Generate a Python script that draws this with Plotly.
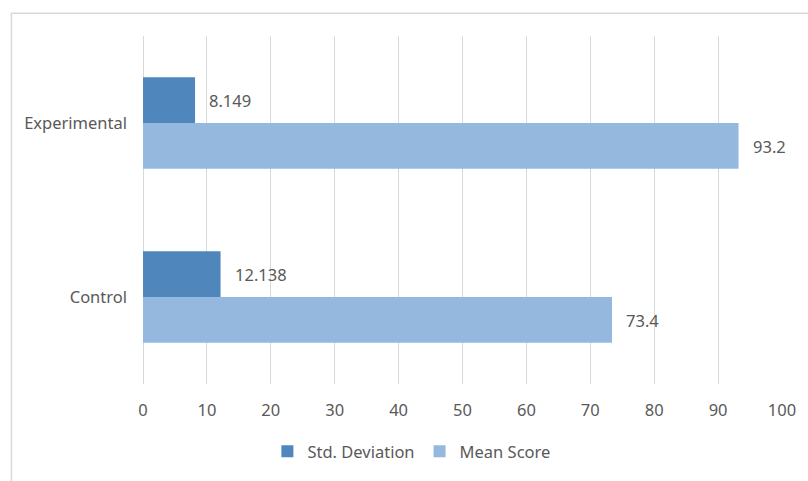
import plotly.graph_objects as go

categories = ["Control", "Experimental"]
std_dev = [12.138, 8.149]
mean_score = [73.4, 93.2]
x_ticks = [0, 10, 20, 30, 40, 50, 60, 70, 80, 90, 100]

C_STD = "#4f87bd"
C_MEAN = "#95b8df"
TXT = "#595959"
GRID = "#d9d9d9"
FONT = "Noto Sans"

fig = go.Figure()
fig.add_trace(go.Bar(y=categories, x=mean_score, name="Mean Score", orientation="h",
                     marker=dict(color=C_MEAN, line=dict(width=0)), legendrank=2))
fig.add_trace(go.Bar(y=categories, x=std_dev, name="Std. Deviation", orientation="h",
                     marker=dict(color=C_STD, line=dict(width=0)), legendrank=1))

annotations = []
for cat, v in zip(categories, std_dev):
    annotations.append(dict(x=v, y=cat, xref="x", yref="y", text=str(v), showarrow=False,
                            xanchor="left", yanchor="middle", xshift=12, yshift=23,
                            font=dict(family=FONT, size=16.5, color=TXT)))
for cat, v in zip(categories, mean_score):
    annotations.append(dict(x=v, y=cat, xref="x", yref="y", text=str(v), showarrow=False,
                            xanchor="left", yanchor="middle", xshift=12, yshift=-23,
                            font=dict(family=FONT, size=16.5, color=TXT)))

fig.update_layout(
    width=808, height=481,
    margin=dict(l=143, r=24, t=36, b=94),
    paper_bgcolor="white", plot_bgcolor="white",
    barmode="group", bargap=0.474, bargroupgap=0,
    font=dict(family=FONT, size=16.5, color=TXT),
    xaxis=dict(range=[0, 100], tickvals=x_ticks, showgrid=True, gridcolor=GRID, gridwidth=1,
               zeroline=True, zerolinecolor=GRID, zerolinewidth=1, showline=False,
               ticks="", ticklabelstandoff=14, tickfont=dict(family=FONT, size=16.5, color=TXT),
               fixedrange=True),
    yaxis=dict(showgrid=False, zeroline=False, showline=False, ticks="",
               ticklabelstandoff=15, tickfont=dict(family=FONT, size=16.5, color=TXT)),
    legend=dict(orientation="h", x=0.42, xanchor="center", y=-0.194, yanchor="middle",
                font=dict(family=FONT, size=16.5, color=TXT), itemwidth=30,
                bgcolor="rgba(0,0,0,0)"),
    annotations=annotations,
    shapes=[dict(type="rect", xref="paper", yref="paper",
                 x0=(11 - 143) / 641, x1=1.2, y0=-0.4, y1=(387 - 13) / 351,
                 line=dict(color=GRID, width=1.5), fillcolor="rgba(0,0,0,0)", layer="below")],
)

fig.write_html("out.html")
